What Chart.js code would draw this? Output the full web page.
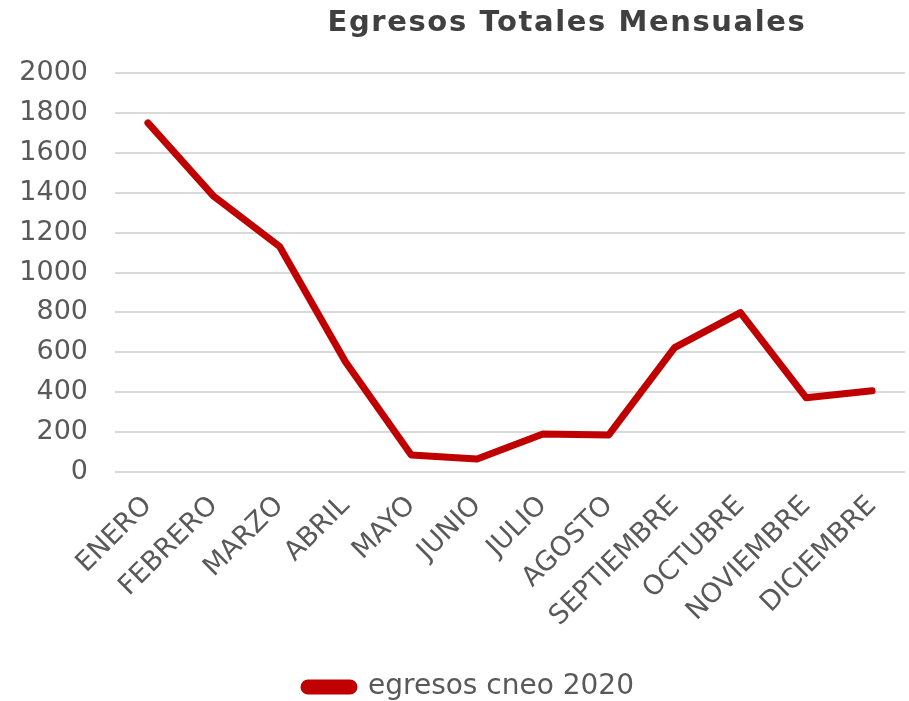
<!DOCTYPE html>
<html>
<head>
<meta charset="utf-8">
<script src="https://cdn.jsdelivr.net/npm/chart.js@4.4.0/dist/chart.umd.min.js"></script>
<style>
  html, body { margin: 0; padding: 0; background: #fff; }
  #wrap { width: 909px; height: 701px; position: relative; }
</style>
</head>
<body>
<div id="wrap"><canvas id="chartEgresos"></canvas></div>
<script>
// datos
const meses = ['ENERO', 'FEBRERO', 'MARZO', 'ABRIL', 'MAYO', 'JUNIO', 'JULIO',
  'AGOSTO', 'SEPTIEMBRE', 'OCTUBRE', 'NOVIEMBRE', 'DICIEMBRE'];
const egresos2020 = [1750, 1382, 1130, 553, 85, 65, 191, 186, 623, 799, 372, 407];
const serieLabel = 'egresos cneo 2020';
const titulo = 'Egresos Totales Mensuales';
const yMin = 0, yMax = 2000, yStep = 200;

const FONT = "'DejaVu Sans', Verdana, sans-serif";

// título desplazado a la derecha como en el original
const tituloPlugin = {
  id: 'tituloPlugin',
  afterDraw(chart) {
    const { ctx, chartArea } = chart;
    ctx.save();
    ctx.font = `bold 29px ${FONT}`;
    ctx.letterSpacing = '1.6px';
    ctx.fillStyle = '#404040';
    ctx.textAlign = 'center';
    ctx.textBaseline = 'alphabetic';
    ctx.fillText(titulo, (chartArea.left + chartArea.right) / 2 + 57, 31);
    ctx.restore();
  }
};

// la leyenda en el original queda un poco a la derecha del centro
const leyendaShift = {
  id: 'leyendaShift',
  afterLayout(chart) {
    if (!chart.legend) return;
    chart.legend.left += 7;
    chart.legend.right += 7;
  }
};

const ctx = document.getElementById('chartEgresos').getContext('2d');
window._chartEgresos = new Chart(ctx, {
  type: 'line',
  data: {
    labels: meses,
    datasets: [{
      label: serieLabel,
      data: egresos2020,
      borderColor: '#C00000',
      backgroundColor: '#C00000',
      borderWidth: 7,
      borderJoinStyle: 'round',
      borderCapStyle: 'round',
      pointRadius: 0,
      tension: 0,
      fill: false,
    }]
  },
  options: {
    responsive: true,
    maintainAspectRatio: false,
    animation: false,
    layout: { padding: { top: 73, right: 4, left: 19, bottom: -10 } },
    plugins: {
      title: { display: false },
      tooltip: { enabled: false },
      legend: {
        display: true,
        position: 'bottom',
        labels: {
          color: '#595959',
          font: { family: FONT, size: 28 },
          boxWidth: 50,
          boxHeight: 8,
          useBorderRadius: true,
          borderRadius: 4,
          padding: 0,
        }
      }
    },
    scales: {
      x: {
        offset: true,
        grid: { display: false, drawTicks: false },
        border: { display: false },
        ticks: {
          color: '#595959',
          font: { family: FONT, size: 27 },
          maxRotation: 45,
          minRotation: 45,
          autoSkip: false,
          padding: 18,
        },
        // las etiquetas giradas pueden invadir la zona del eje Y, como en Excel
        afterFit: (scale) => {
          scale.paddingLeft = 0;
          scale.paddingRight = 0;
          scale.height = 201;
        }
      },
      y: {
        min: yMin,
        max: yMax,
        grid: { color: '#D9D9D9', lineWidth: 2, drawTicks: false },
        border: { display: false },
        ticks: {
          stepSize: yStep,
          color: '#595959',
          font: { family: FONT, size: 27 },
          padding: 27,
          callback: (v) => String(v),
        },
        afterFit: (scale) => {
          scale.width = 96;
        }
      }
    }
  },
  plugins: [tituloPlugin, leyendaShift]
});
</script>
</body>
</html>
